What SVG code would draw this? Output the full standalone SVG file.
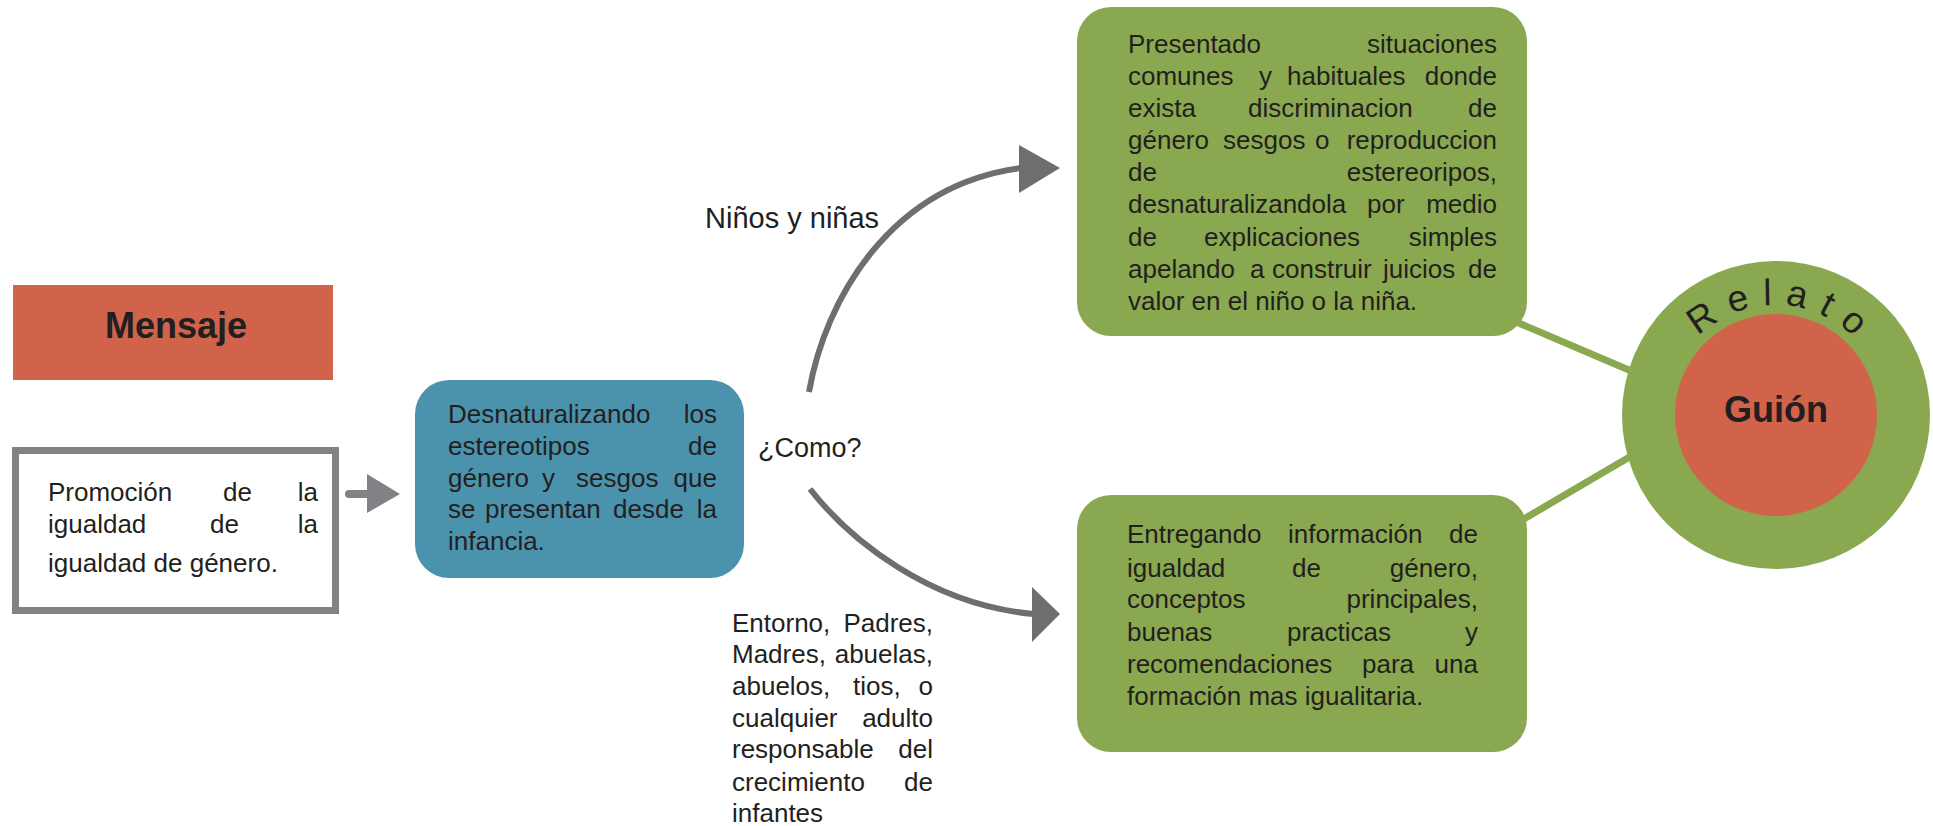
<svg xmlns="http://www.w3.org/2000/svg" width="1933" height="826" viewBox="0 0 1933 826">
<style>
  .t { font-family: "Liberation Sans", Arial, sans-serif; font-size: 26px; fill: #231f20; }
  .b { font-weight: bold; font-size: 36px; text-anchor: middle; }
  .e { text-anchor: end; }
  .lbl { font-size: 29px; }
  .curve { fill: none; stroke: #6d6e70; stroke-width: 6; }
  .head { fill: #6d6e70; }
  .glink { stroke: #8aa84f; stroke-width: 7; }
  .orange { fill: #d0634a; }
  .green { fill: #8aa84f; }
</style>
<defs>
  <path id="relatoArc" d="M 1666,415 A 110,110 0 0,1 1886,415"/>
</defs>
<rect width="1933" height="826" fill="#ffffff"/>

<g id="connectors">
  <line x1="349" y1="494" x2="370" y2="494" stroke="#808285" stroke-width="8" stroke-linecap="round"/>
  <polygon points="367,474 367,513 400,494" fill="#808285"/>
  <path class="curve" d="M 809,392 C 825,300 890,185 1021,168"/>
  <polygon class="head" points="1019,145 1019,193 1060,168"/>
  <path class="curve" d="M 810,489 C 850,540 930,605 1034,614"/>
  <polygon class="head" points="1032,587 1032,642 1060,614"/>
  <line class="glink" x1="1500" y1="315" x2="1650" y2="379"/>
  <line class="glink" x1="1505" y1="530" x2="1650" y2="445"/>
</g>

<g id="mensaje">
  <rect class="orange" x="13" y="285" width="320" height="95"/>
  <text class="t b" x="176" y="338">Mensaje</text>
</g>

<g id="promocion">
  <rect x="15.5" y="450.5" width="320" height="160" fill="#ffffff" stroke="#808285" stroke-width="7"/>
  <text class="t" x="48" y="501">Promoción</text>
  <text class="t" x="223" y="501">de</text>
  <text class="t e" x="318" y="501">la</text>
  <text class="t" x="48" y="533">igualdad</text>
  <text class="t" x="210" y="533">de</text>
  <text class="t e" x="318" y="533">la</text>
  <text class="t" x="48" y="572">igualdad de género.</text>
</g>

<g id="desnaturalizando">
  <rect x="415" y="380" width="329" height="198" rx="34" fill="#4b93ad"/>
  <text class="t" x="448" y="423">Desnaturalizando</text>
  <text class="t e" x="717" y="423">los</text>
  <text class="t" x="448" y="455">estereotipos</text>
  <text class="t e" x="717" y="455">de</text>
  <text class="t" x="448" y="487">género</text>
  <text class="t" x="542" y="487">y</text>
  <text class="t" x="576" y="487">sesgos</text>
  <text class="t e" x="717" y="487">que</text>
  <text class="t" x="448" y="518">se</text>
  <text class="t" x="485" y="518">presentan</text>
  <text class="t" x="613" y="518">desde</text>
  <text class="t e" x="717" y="518">la</text>
  <text class="t" x="448" y="550">infancia.</text>
</g>

<g id="como">
  <text class="t" x="758" y="457" style="font-size:27px">¿Como?</text>
</g>

<g id="ninos">
  <text class="t lbl" x="705" y="228">Niños y niñas</text>
</g>

<g id="entorno">
  <text class="t" x="732" y="632">Entorno,</text>
  <text class="t e" x="933" y="632">Padres,</text>
  <text class="t" x="732" y="663">Madres,</text>
  <text class="t e" x="933" y="663">abuelas,</text>
  <text class="t" x="732" y="695">abuelos,</text>
  <text class="t" x="853" y="695">tios,</text>
  <text class="t e" x="933" y="695">o</text>
  <text class="t" x="732" y="727">cualquier</text>
  <text class="t e" x="933" y="727">adulto</text>
  <text class="t" x="732" y="758">responsable</text>
  <text class="t e" x="933" y="758">del</text>
  <text class="t" x="732" y="791">crecimiento</text>
  <text class="t e" x="933" y="791">de</text>
  <text class="t" x="732" y="822">infantes</text>
</g>

<g id="presentado">
  <rect class="green" x="1077" y="7" width="450" height="329" rx="34"/>
  <text class="t" x="1128" y="53">Presentado</text>
  <text class="t e" x="1497" y="53">situaciones</text>
  <text class="t" x="1128" y="85">comunes</text>
  <text class="t" x="1259" y="85">y</text>
  <text class="t" x="1287" y="85">habituales</text>
  <text class="t e" x="1497" y="85">donde</text>
  <text class="t" x="1128" y="117">exista</text>
  <text class="t" x="1248" y="117">discriminacion</text>
  <text class="t e" x="1497" y="117">de</text>
  <text class="t" x="1128" y="149">género</text>
  <text class="t" x="1223" y="149">sesgos</text>
  <text class="t" x="1315" y="149">o</text>
  <text class="t e" x="1497" y="149">reproduccion</text>
  <text class="t" x="1128" y="181">de</text>
  <text class="t e" x="1497" y="181">estereoripos,</text>
  <text class="t" x="1128" y="213">desnaturalizandola</text>
  <text class="t" x="1367" y="213">por</text>
  <text class="t e" x="1497" y="213">medio</text>
  <text class="t" x="1128" y="246">de</text>
  <text class="t" x="1204" y="246">explicaciones</text>
  <text class="t e" x="1497" y="246">simples</text>
  <text class="t" x="1128" y="278">apelando</text>
  <text class="t" x="1250" y="278">a</text>
  <text class="t" x="1272" y="278">construir</text>
  <text class="t" x="1383" y="278">juicios</text>
  <text class="t e" x="1497" y="278">de</text>
  <text class="t" x="1128" y="310">valor en el niño o la niña.</text>
</g>

<g id="entregando">
  <rect class="green" x="1077" y="495" width="450" height="257" rx="34"/>
  <text class="t" x="1127" y="543">Entregando</text>
  <text class="t" x="1288" y="543">información</text>
  <text class="t e" x="1478" y="543">de</text>
  <text class="t" x="1127" y="577">igualdad</text>
  <text class="t" x="1292" y="577">de</text>
  <text class="t e" x="1478" y="577">género,</text>
  <text class="t" x="1127" y="608">conceptos</text>
  <text class="t e" x="1478" y="608">principales,</text>
  <text class="t" x="1127" y="641">buenas</text>
  <text class="t" x="1287" y="641">practicas</text>
  <text class="t e" x="1478" y="641">y</text>
  <text class="t" x="1127" y="673">recomendaciones</text>
  <text class="t" x="1362" y="673">para</text>
  <text class="t e" x="1478" y="673">una</text>
  <text class="t" x="1127" y="705">formación mas igualitaria.</text>
</g>

<g id="relato">
  <circle class="green" cx="1776" cy="415" r="154"/>
  <circle class="orange" cx="1776" cy="415" r="101"/>
  <text class="t" style="font-size:37px; letter-spacing:13px;"><textPath href="#relatoArc" startOffset="51.9%" text-anchor="middle">Relato</textPath></text>
  <text class="t b" x="1776" y="422">Guión</text>
</g>
</svg>
